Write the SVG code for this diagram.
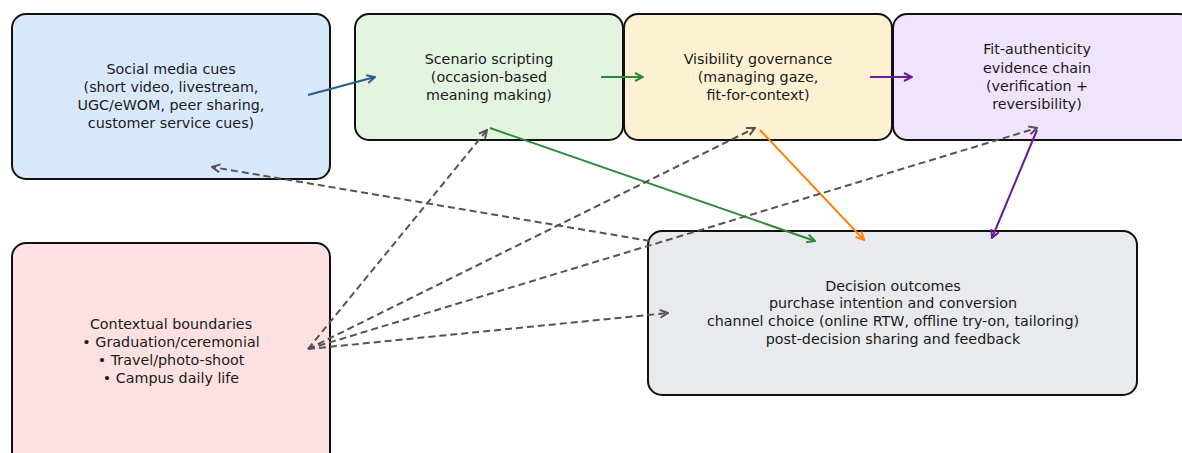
<svg xmlns="http://www.w3.org/2000/svg" width="1182" height="453" viewBox="0 0 1182 453">
<style>
.box{stroke:#111;stroke-width:2}
.t{font-family:"DejaVu Sans",sans-serif;font-size:14.3px;fill:#1a1a1a;text-anchor:middle}
.c{fill:none;stroke-width:2}
.d{fill:none;stroke:#555;stroke-width:2;stroke-dasharray:7,4}
</style>
<defs>
<marker id="mb" viewBox="0 0 10 10" refX="9" refY="5" markerWidth="10" markerHeight="10" markerUnits="userSpaceOnUse" orient="auto"><path d="M1,1 L9,5 L1,9" fill="none" stroke="#2b5c8a" stroke-width="2"/></marker>
<marker id="mg" viewBox="0 0 10 10" refX="9" refY="5" markerWidth="10" markerHeight="10" markerUnits="userSpaceOnUse" orient="auto"><path d="M1,1 L9,5 L1,9" fill="none" stroke="#2e8a38" stroke-width="2"/></marker>
<marker id="mo" viewBox="0 0 10 10" refX="9" refY="5" markerWidth="10" markerHeight="10" markerUnits="userSpaceOnUse" orient="auto"><path d="M1,1 L9,5 L1,9" fill="none" stroke="#ff7f0e" stroke-width="2"/></marker>
<marker id="mp" viewBox="0 0 10 10" refX="9" refY="5" markerWidth="10" markerHeight="10" markerUnits="userSpaceOnUse" orient="auto"><path d="M1,1 L9,5 L1,9" fill="none" stroke="#6a1b9a" stroke-width="2"/></marker>
<marker id="md" viewBox="0 0 10 10" refX="9" refY="5" markerWidth="10" markerHeight="10" markerUnits="userSpaceOnUse" orient="auto"><path d="M1,1 L9,5 L1,9" fill="none" stroke="#555" stroke-width="2"/></marker>
</defs>
<rect width="1182" height="453" fill="#fff"/>
<g id="social">
<rect class="box" x="12" y="14" width="318" height="165" rx="14" fill="#dae8fc"/>
<text class="t" x="171" y="74">Social media cues</text>
<text class="t" x="171" y="92">(short video, livestream,</text>
<text class="t" x="171" y="110">UGC/eWOM, peer sharing,</text>
<text class="t" x="171" y="128">customer service cues)</text>
</g>
<g id="scenario">
<rect class="box" x="355" y="14" width="268" height="126" rx="14" fill="#e3f4e1"/>
<text class="t" x="489" y="64">Scenario scripting</text>
<text class="t" x="489" y="82">(occasion-based</text>
<text class="t" x="489" y="100">meaning making)</text>
</g>
<g id="visibility">
<rect class="box" x="624" y="14" width="268" height="126" rx="14" fill="#fdf1d4"/>
<text class="t" x="758" y="64">Visibility governance</text>
<text class="t" x="758" y="82">(managing gaze,</text>
<text class="t" x="758" y="100">fit-for-context)</text>
</g>
<g id="fit">
<rect class="box" x="893" y="14" width="300" height="126" rx="14" fill="#f0e3fc"/>
<text class="t" x="1037" y="54">Fit-authenticity</text>
<text class="t" x="1037" y="73">evidence chain</text>
<text class="t" x="1037" y="91">(verification +</text>
<text class="t" x="1037" y="109">reversibility)</text>
</g>
<g id="context">
<rect class="box" x="12" y="243" width="318" height="230" rx="14" fill="#fde1e2"/>
<text class="t" x="171" y="329">Contextual boundaries</text>
<text class="t" x="171" y="347">• Graduation/ceremonial</text>
<text class="t" x="171" y="365">• Travel/photo-shoot</text>
<text class="t" x="171" y="383">• Campus daily life</text>
</g>
<g id="decision">
<rect class="box" x="648" y="231" width="489" height="164" rx="14" fill="#e8eaed"/>
<text class="t" x="893" y="291">Decision outcomes</text>
<text class="t" x="893" y="308">purchase intention and conversion</text>
<text class="t" x="893" y="326">channel choice (online RTW, offline try-on, tailoring)</text>
<text class="t" x="893" y="344">post-decision sharing and feedback</text>
</g>
<g id="connectors">
<line class="c" stroke="#2b5c8a" x1="308" y1="95" x2="375" y2="77" marker-end="url(#mb)"/>
<line class="c" stroke="#2e8a38" x1="601" y1="77" x2="643" y2="77" marker-end="url(#mg)"/>
<line class="c" stroke="#6a1b9a" x1="870" y1="77" x2="912" y2="77" marker-end="url(#mp)"/>
<line class="c" stroke="#2e8a38" x1="490" y1="128" x2="815" y2="241" marker-end="url(#mg)"/>
<line class="c" stroke="#ff7f0e" x1="760" y1="130" x2="864" y2="240" marker-end="url(#mo)"/>
<line class="c" stroke="#6a1b9a" x1="1037" y1="130" x2="992" y2="238" marker-end="url(#mp)"/>
<line class="d" x1="650" y1="241" x2="212" y2="167" marker-end="url(#md)"/>
<line class="d" x1="308" y1="349" x2="487" y2="130" marker-end="url(#md)"/>
<line class="d" x1="308" y1="349" x2="755" y2="128" marker-end="url(#md)"/>
<line class="d" x1="308" y1="349" x2="1037" y2="128" marker-end="url(#md)"/>
<line class="d" x1="308" y1="349" x2="668" y2="313" marker-end="url(#md)"/>
</g>
</svg>
